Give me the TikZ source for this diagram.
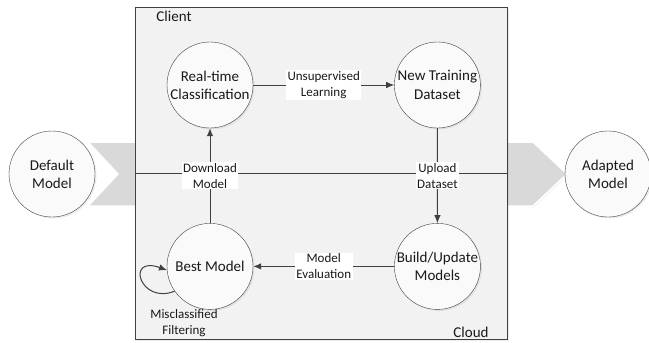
\documentclass[tikz,border=0pt]{standalone}
\usepackage{fontspec}
\setmainfont{Carlito}
\usetikzlibrary{positioning,calc,arrows.meta,shadows}

\begin{document}
\begin{tikzpicture}[x=1pt, y=-1pt, >={Latex[length=8pt,width=6.5pt]},
    state/.style={circle, draw=black!75, fill=white!98!black, minimum size=86pt,
        inner sep=0pt, align=center, text=black!90,
        font=\fontsize{15}{18.3}\selectfont,
        drop shadow={shadow xshift=1.5pt, shadow yshift=-1.5pt, opacity=0.15}},
    zone/.style={rectangle, draw=black!75, fill=black!5, line width=0.8pt,
        minimum width=372pt, minimum height=166pt, inner sep=0pt,
        drop shadow={shadow xshift=2pt, shadow yshift=-2pt, opacity=0.15}},
    lbl/.style={fill=white, inner xsep=1.5pt, inner ysep=1pt, align=center,
        text=black!90, font=\fontsize{13}{16}\selectfont},
    flow/.style={draw=black!75, line width=1pt}]

    % Page
    \path[use as bounding box, fill=white] (0,0) rectangle (649,343);

    % Big flow band behind the frame
    \path[fill=black!15, draw=white, line width=1.5pt, line join=miter,
        drop shadow={shadow xshift=1pt, shadow yshift=-1pt, opacity=0.15}]
        (88,142) -- (533,142) -- (567,174) -- (533,206) -- (88,206) -- (118,174) -- cycle;

    % Client / Cloud frame
    \node[zone] (client) at (321,90) {};
    \node[zone] (cloud) at (321,256) {};
    \node[text=black!90, font=\fontsize{15}{18}\selectfont] (clientlbl) at (174,16) {Client};
    \node[text=black!90, font=\fontsize{15}{18}\selectfont] (cloudlbl) at (471,332) {Cloud};

    % States
    \node[state] (realtime) at (210,85) {Real-time\\Classification};
    \node[state, right=141pt of realtime] (newdata) {New Training\\Dataset};
    \node[state, below=95pt of realtime] (best) {Best Model};
    \node[state, right=141pt of best] (build) {Build/Update\\Models};
    \node[state] (default) at (52,174) {Default\\Model};
    \node[state] (adapted) at (608,174) {Adapted\\Model};

    % Transitions
    \draw[flow, ->] (realtime) -- node[lbl] {Unsupervised\\Learning} (newdata);
    \draw[flow, ->] (newdata) -- node[lbl] {Upload\\Dataset} (build);
    \draw[flow, ->] (build) -- node[lbl] {Model\\Evaluation} (best);
    \draw[flow, ->] (best) -- node[lbl] {Download\\Model} (realtime);
    \draw[flow, ->] (best.215) .. controls (140,305) and (125,255) .. (best.185);
    \node[lbl, fill=none] (filter) at (184,323) {Misclassified\\Filtering};
\end{tikzpicture}
\end{document}
